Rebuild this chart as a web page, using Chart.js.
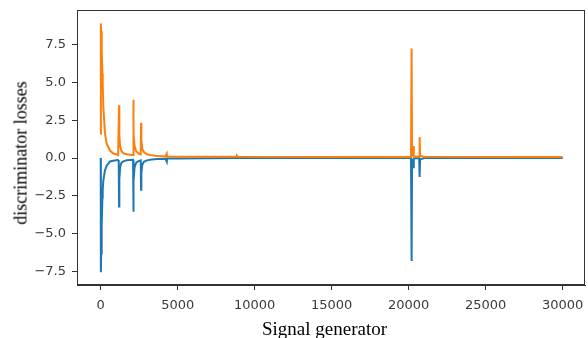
<!DOCTYPE html>
<html>
<head>
<meta charset="utf-8">
<script src="https://cdn.jsdelivr.net/npm/chart.js@4.4.1/dist/chart.umd.min.js"></script>
<style>
  html, body { margin: 0; padding: 0; background: #fff; }
  #wrap { position: relative; width: 588px; height: 338px; overflow: hidden; }
  canvas { position: absolute; left: 0; top: 0; }
  .xlabel {
    position: absolute; left: 262px; top: 318px;
    font: 19px "Liberation Serif", "DejaVu Serif", serif; color: #000; white-space: nowrap;
  }
  .ylabel {
    position: absolute; left: 21px; top: 153px;
    transform: translate(-50%, -50%) rotate(-90deg);
    font: 18px "Liberation Serif", "DejaVu Serif", serif; color: #000; white-space: nowrap;
  }
</style>
</head>
<body>
<div id="wrap">
  <canvas id="chart" width="588" height="338"></canvas>
  <div class="xlabel">Signal generator</div>
  <div class="ylabel">discriminator losses</div>
</div>
<script>
// training steps shared by both series
const STEPS = [
  0, 10, 30, 65, 110, 130, 170, 260, 280, 390, 600, 820, 1000, 1130, 1170,
  1190, 1210, 1260, 1350, 1500, 1700, 1900, 2100,
  2120, 2140, 2200, 2300, 2450, 2600,
  2620, 2640, 2700, 2800, 3000, 3300, 3700, 4200,
  4290, 4310, 5000, 8800, 8850, 8900,
  20150, 20190, 20220, 20300, 20330, 20680, 20710, 20740, 21000, 30000
]

// discriminator loss, orange series
const LOSS_ORANGE = [
  1.6, 8.9, 8.4, 7.1, 5.6, 4.9, 3.4, 1.9, 1.6, 0.95, 0.5, 0.3, 0.25, 0.2, 0.2,
  3.5, 1.5, 0.8, 0.45, 0.3, 0.25, 0.22, 0.2,
  3.85, 1.6, 0.8, 0.45, 0.3, 0.25,
  2.33, 1.2, 0.6, 0.4, 0.25, 0.18, 0.13, 0.11,
  0.3, 0.1, 0.09, 0.09, 0.15, 0.09,
  0.08, 7.25, 0.1, 0.8, 0.1, 0.1, 1.4, 0.15, 0.09, 0.08
]

// discriminator loss, blue series
const LOSS_BLUE = [
  0.0, -7.55, -6.3, -4.4, -2.6, -2.1, -1.5, -0.9, -0.8, -0.5, -0.22, -0.18, -0.15, -0.13, -0.12,
  -3.2, -1.4, -0.6, -0.3, -0.2, -0.15, -0.13, -0.12,
  -3.55, -1.5, -0.6, -0.3, -0.2, -0.15,
  -2.1, -1.0, -0.45, -0.25, -0.15, -0.1, -0.06, -0.04,
  -0.25, -0.03, -0.02, 0.0, 0.0, 0.0,
  0.0, -6.8, -0.05, -0.6, -0.02, 0.0, -1.25, -0.1, 0.0, 0.0
]

const X_TICKS = [0, 5000, 10000, 15000, 20000, 25000, 30000]
const Y_TICKS = [-7.5, -5.0, -2.5, 0.0, 2.5, 5.0, 7.5]

const AXIS_COLOR = '#333333'
const TICK_FONT = { family: 'DejaVu Sans', size: 13 }

function toPoints(values) {
  return STEPS.map((x, i) => ({ x, y: values[i] }))
}

// no automatic room for overhanging tick labels, the plot box is fixed
function fixBox(s, size) {
  if (s.isHorizontal()) s.height = size
  else s.width = size
  s.paddingTop = 0
  s.paddingBottom = 0
  s.paddingLeft = 0
  s.paddingRight = 0
}

// box around the plot area, like matplotlib spines
const frame = {
  id: 'frame',
  afterDraw(chart) {
    const { ctx, chartArea: a } = chart
    ctx.save()
    ctx.strokeStyle = AXIS_COLOR
    ctx.lineWidth = 1
    ctx.strokeRect(Math.round(a.left) + 0.5, Math.round(a.top) + 0.5,
      Math.round(a.right - a.left) - 1, Math.round(a.bottom - a.top) - 1)
    ctx.restore()
  }
}

new Chart(document.getElementById('chart'), {
  type: 'line',
  data: {
    datasets: [
      { data: toPoints(LOSS_ORANGE), borderColor: '#ff7f0e', borderWidth: 2, order: 0 },
      { data: toPoints(LOSS_BLUE), borderColor: '#1f77b4', borderWidth: 2, order: 1 }
    ]
  },
  options: {
    responsive: false,
    animation: false,
    devicePixelRatio: 1,
    layout: { padding: { top: 10, right: 3, left: 0, bottom: 0 } },
    elements: { point: { radius: 0 }, line: { tension: 0 } },
    plugins: { legend: { display: false }, tooltip: { enabled: false } },
    scales: {
      x: {
        type: 'linear',
        min: -1540,
        max: 31450,
        afterFit: s => fixBox(s, 53),
        afterBuildTicks: s => { s.ticks = X_TICKS.map(v => ({ value: v })) },
        grid: { drawOnChartArea: false, tickLength: 5, tickColor: AXIS_COLOR },
        border: { color: AXIS_COLOR },
        ticks: { color: '#3a3a3a', font: TICK_FONT, padding: 8, maxRotation: 0, callback: v => String(v) }
      },
      y: {
        type: 'linear',
        min: -8.39,
        max: 9.79,
        afterFit: s => fixBox(s, 77),
        afterBuildTicks: s => { s.ticks = Y_TICKS.map(v => ({ value: v })) },
        grid: { drawOnChartArea: false, tickLength: 5, tickColor: AXIS_COLOR },
        border: { color: AXIS_COLOR },
        ticks: { color: '#3a3a3a', font: TICK_FONT, padding: 6, callback: v => v.toFixed(1).replace('-', '\u2212') }
      }
    }
  },
  plugins: [frame]
})
</script>
</body>
</html>
